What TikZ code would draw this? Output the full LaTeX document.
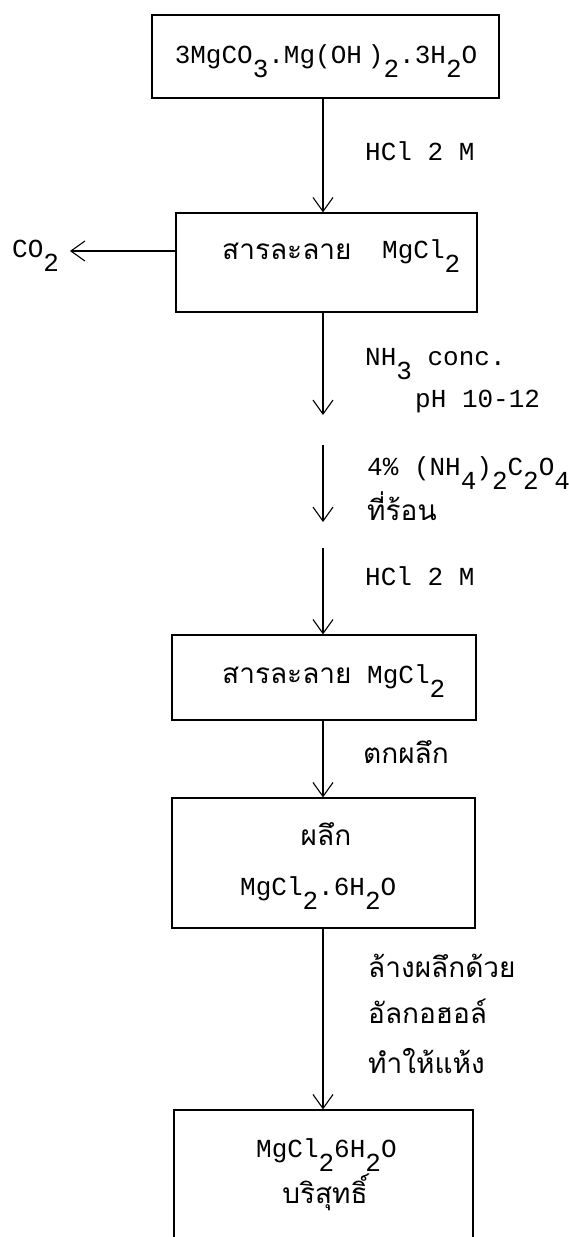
\documentclass[tikz,border=0pt]{standalone}
\usepackage{fontspec}
\setmainfont{Liberation Mono}
\newfontfamily\thaifnt[Script=Thai]{Loma}
\usetikzlibrary{arrows.meta}
\newcommand\lw[1]{\raisebox{-14pt}{#1}}
\begin{document}
\begin{tikzpicture}[x=1pt,y=-1pt,
  box/.style={draw,line width=1.2pt,inner sep=0pt,anchor=center},
  arr/.style={line width=1.1pt,-{Straight Barb[length=14pt,width=20pt,line width=1.1pt]}},
  txt/.style={inner sep=0pt,font=\fontsize{26}{30}\selectfont},
  thtxt/.style={inner sep=0pt,font=\thaifnt\fontsize{28}{32}\selectfont}]
\useasboundingbox (0,0) rectangle (568,1237);
\clip (0,0) rectangle (568,1237);
\fill[white] (0,0) rectangle (568,1237);
% boxes
\node[box,minimum width=347pt,minimum height=83pt] (b1) at (325.5,56.5) {};
\node[box,minimum width=301pt,minimum height=99pt] (b2) at (326.5,262.5) {};
\node[box,minimum width=304pt,minimum height=85pt] (b3) at (324,677.5) {};
\node[box,minimum width=303pt,minimum height=130pt] (b4) at (323.5,863) {};
\node[box,minimum width=299pt,minimum height=150pt] (b5) at (323.5,1185) {};
% box texts
\node[txt,anchor=base] (t1) at (326,63) {3MgCO\lw{3}.Mg(OH\hspace{6pt})\lw{2}.3H\lw{2}O};
\node[thtxt,anchor=base west] (t2a) at (222,259) {สารละลาย};
\node[txt,anchor=base west] (t2b) at (382,258) {MgCl\lw{2}};
\node[thtxt,anchor=base west] (t3a) at (222,683) {สารละลาย};
\node[txt,anchor=base west] (t3b) at (367,683) {MgCl\lw{2}};
\node[thtxt,anchor=base] (t4a) at (326,845) {ผลึก};
\node[txt,anchor=base west] (t4b) at (240,895) {MgCl\lw{2}.6H\lw{2}O};
\node[txt,anchor=base west] (t5a) at (256,1157) {MgCl\lw{2}6H\lw{2}O};
\node[thtxt,anchor=base] (t5b) at (325,1203) {บริสุทธิ์};
% side product
\node[txt,anchor=base west] (co2) at (12,257.5) {CO\lw{2}};
\coordinate (ctip) at (70,251);
\draw[arr] (b2.west |- ctip) -- (ctip);
% arrow labels
\node[txt,anchor=base west] (l1) at (365,160) {HCl 2 M};
\node[txt,anchor=base west] (l2) at (365,365) {NH\lw{3} conc.};
\node[txt,anchor=base west] (l3) at (415,407) {pH 10-12};
\node[txt,anchor=base west] (l4) at (367,475) {4\% (NH\lw{4})\lw{2}C\lw{2}O\lw{4}};
\node[thtxt,anchor=base west] (l5) at (367,520) {ที่ร้อน};
\node[txt,anchor=base west] (l6) at (365,585) {HCl 2 M};
\node[thtxt,anchor=base west] (l7) at (363,763) {ตกผลึก};
\node[thtxt,anchor=base west] (l8) at (368,977) {ล้างผลึกด้วย};
\node[thtxt,anchor=base west] (l9) at (368,1023) {อัลกอฮอล์};
\node[thtxt,anchor=base west] (l10) at (368,1073) {ทำให้แห้ง};
% main flow
\coordinate (ax) at (323,0);
\coordinate (e2) at (323,415);
\coordinate (s3) at (323,445);
\coordinate (e3) at (323,522);
\coordinate (s4) at (323,548);
\draw[arr] (b1.south -| ax) -- (b2.north -| ax);
\draw[arr] (b2.south -| ax) -- (e2);
\draw[arr] (s3) -- (e3);
\draw[arr] (s4) -- (b3.north -| ax);
\draw[arr] (b3.south -| ax) -- (b4.north -| ax);
\draw[arr] (b4.south -| ax) -- (b5.north -| ax);
\end{tikzpicture}
\end{document}
